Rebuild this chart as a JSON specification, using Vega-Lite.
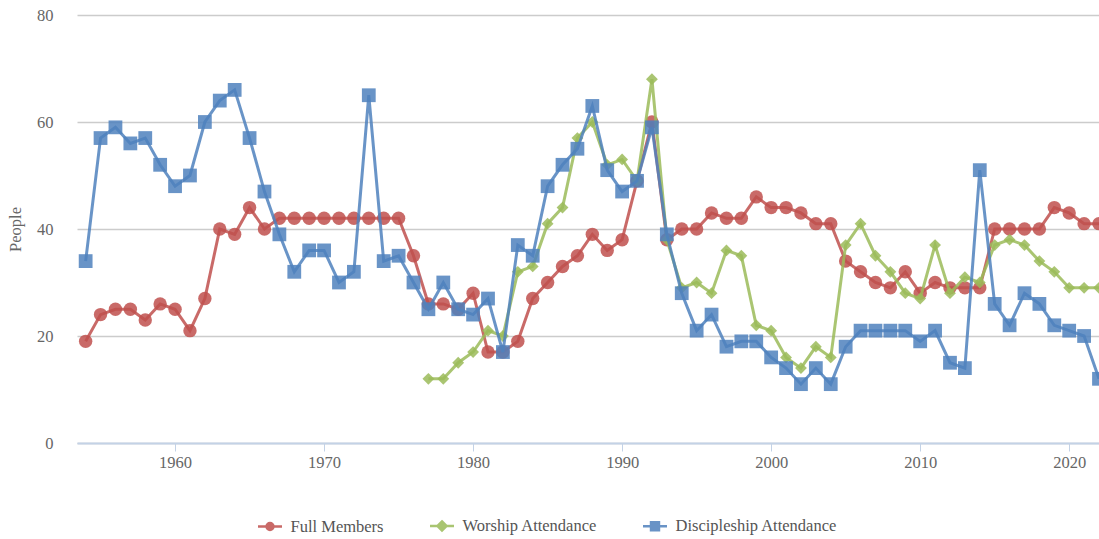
{
  "$schema": "https://vega.github.io/schema/vega-lite/v6.json",
  "autosize": {"type": "none"},
  "padding": {"left": 77, "top": 15, "right": 0, "bottom": 96},
  "width": 1022,
  "height": 428,
  "background": "white",
  "config": {
    "view": {"stroke": null},
    "font": "Liberation Serif"
  },
  "datasets": {
    "members": [
      {"year":1954,"value":19},{"year":1955,"value":24},{"year":1956,"value":25},{"year":1957,"value":25},{"year":1958,"value":23},{"year":1959,"value":26},{"year":1960,"value":25},{"year":1961,"value":21},{"year":1962,"value":27},{"year":1963,"value":40},{"year":1964,"value":39},{"year":1965,"value":44},{"year":1966,"value":40},{"year":1967,"value":42},{"year":1968,"value":42},{"year":1969,"value":42},{"year":1970,"value":42},{"year":1971,"value":42},{"year":1972,"value":42},{"year":1973,"value":42},{"year":1974,"value":42},{"year":1975,"value":42},{"year":1976,"value":35},{"year":1977,"value":26},{"year":1978,"value":26},{"year":1979,"value":25},{"year":1980,"value":28},{"year":1981,"value":17},{"year":1982,"value":17},{"year":1983,"value":19},{"year":1984,"value":27},{"year":1985,"value":30},{"year":1986,"value":33},{"year":1987,"value":35},{"year":1988,"value":39},{"year":1989,"value":36},{"year":1990,"value":38},{"year":1991,"value":49},{"year":1992,"value":60},{"year":1993,"value":38},{"year":1994,"value":40},{"year":1995,"value":40},{"year":1996,"value":43},{"year":1997,"value":42},{"year":1998,"value":42},{"year":1999,"value":46},{"year":2000,"value":44},{"year":2001,"value":44},{"year":2002,"value":43},{"year":2003,"value":41},{"year":2004,"value":41},{"year":2005,"value":34},{"year":2006,"value":32},{"year":2007,"value":30},{"year":2008,"value":29},{"year":2009,"value":32},{"year":2010,"value":28},{"year":2011,"value":30},{"year":2012,"value":29},{"year":2013,"value":29},{"year":2014,"value":29},{"year":2015,"value":40},{"year":2016,"value":40},{"year":2017,"value":40},{"year":2018,"value":40},{"year":2019,"value":44},{"year":2020,"value":43},{"year":2021,"value":41},{"year":2022,"value":41}
    ],
    "worship": [
      {"year":1977,"value":12},{"year":1978,"value":12},{"year":1979,"value":15},{"year":1980,"value":17},{"year":1981,"value":21},{"year":1982,"value":20},{"year":1983,"value":32},{"year":1984,"value":33},{"year":1985,"value":41},{"year":1986,"value":44},{"year":1987,"value":57},{"year":1988,"value":60},{"year":1989,"value":52},{"year":1990,"value":53},{"year":1991,"value":49},{"year":1992,"value":68},{"year":1993,"value":38},{"year":1994,"value":29},{"year":1995,"value":30},{"year":1996,"value":28},{"year":1997,"value":36},{"year":1998,"value":35},{"year":1999,"value":22},{"year":2000,"value":21},{"year":2001,"value":16},{"year":2002,"value":14},{"year":2003,"value":18},{"year":2004,"value":16},{"year":2005,"value":37},{"year":2006,"value":41},{"year":2007,"value":35},{"year":2008,"value":32},{"year":2009,"value":28},{"year":2010,"value":27},{"year":2011,"value":37},{"year":2012,"value":28},{"year":2013,"value":31},{"year":2014,"value":30},{"year":2015,"value":37},{"year":2016,"value":38},{"year":2017,"value":37},{"year":2018,"value":34},{"year":2019,"value":32},{"year":2020,"value":29},{"year":2021,"value":29},{"year":2022,"value":29}
    ],
    "disciple": [
      {"year":1954,"value":34},{"year":1955,"value":57},{"year":1956,"value":59},{"year":1957,"value":56},{"year":1958,"value":57},{"year":1959,"value":52},{"year":1960,"value":48},{"year":1961,"value":50},{"year":1962,"value":60},{"year":1963,"value":64},{"year":1964,"value":66},{"year":1965,"value":57},{"year":1966,"value":47},{"year":1967,"value":39},{"year":1968,"value":32},{"year":1969,"value":36},{"year":1970,"value":36},{"year":1971,"value":30},{"year":1972,"value":32},{"year":1973,"value":65},{"year":1974,"value":34},{"year":1975,"value":35},{"year":1976,"value":30},{"year":1977,"value":25},{"year":1978,"value":30},{"year":1979,"value":25},{"year":1980,"value":24},{"year":1981,"value":27},{"year":1982,"value":17},{"year":1983,"value":37},{"year":1984,"value":35},{"year":1985,"value":48},{"year":1986,"value":52},{"year":1987,"value":55},{"year":1988,"value":63},{"year":1989,"value":51},{"year":1990,"value":47},{"year":1991,"value":49},{"year":1992,"value":59},{"year":1993,"value":39},{"year":1994,"value":28},{"year":1995,"value":21},{"year":1996,"value":24},{"year":1997,"value":18},{"year":1998,"value":19},{"year":1999,"value":19},{"year":2000,"value":16},{"year":2001,"value":14},{"year":2002,"value":11},{"year":2003,"value":14},{"year":2004,"value":11},{"year":2005,"value":18},{"year":2006,"value":21},{"year":2007,"value":21},{"year":2008,"value":21},{"year":2009,"value":21},{"year":2010,"value":19},{"year":2011,"value":21},{"year":2012,"value":15},{"year":2013,"value":14},{"year":2014,"value":51},{"year":2015,"value":26},{"year":2016,"value":22},{"year":2017,"value":28},{"year":2018,"value":26},{"year":2019,"value":22},{"year":2020,"value":21},{"year":2021,"value":20},{"year":2022,"value":12}
    ]
  },
  "encoding": {
    "x": {
      "field": "year", "type": "quantitative",
      "scale": {"domain": [1953.42, 2022.0], "nice": false, "zero": false},
      "axis": {
        "title": null, "values": [1960,1970,1980,1990,2000,2010,2020], "format": "d",
        "grid": false, "domainColor": "#c3d2e6", "domainWidth": 2, "tickColor": "#c3d2e6", "tickSize": 8, "tickWidth": 1,
        "labelFont": "Liberation Serif", "labelFontSize": 16.5, "labelColor": "#666666", "labelPadding": 3
      }
    },
    "y": {
      "field": "value", "type": "quantitative",
      "scale": {"domain": [0, 80], "nice": false},
      "axis": {
        "title": "People", "values": [0,20,40,60,80], "domain": false, "ticks": false,
        "gridColor": "#cccccc", "gridWidth": 1.5,
        "labelFont": "Liberation Serif", "labelFontSize": 16.5, "labelColor": "#666666", "labelPadding": 24,
        "titleFont": "Liberation Serif", "titleFontSize": 16.5, "titleFontWeight": "normal", "titleColor": "#666666",
        "titleX": -62, "titleY": 214, "titleAngle": 270, "titleAlign": "center", "titleBaseline": "middle"
      }
    },
    "color": {
      "field": "series", "type": "nominal",
      "scale": {"domain": ["Full Members", "Worship Attendance", "Discipleship Attendance"], "range": ["#c0504d", "#9bbb59", "#4f81bd"]},
      "legend": {
        "title": null, "orient": "none", "direction": "horizontal", "legendX": 179.5, "legendY": 497,
        "columnPadding": 40, "symbolSize": 576, "symbolStrokeWidth": 2.5, "symbolOpacity": 0.85,
        "labelFont": "Liberation Serif", "labelFontSize": 16.5, "labelColor": "#555555", "labelOffset": 7, "labelLimit": 400,
        "encode": {
          "symbols": {
            "update": {
              "shape": {"signal": "datum.value === 'Full Members' ? 'M-1,0L1,0M-0.29,0A0.29,0.29 0 1,0 0.29,0A0.29,0.29 0 1,0 -0.29,0Z' : datum.value === 'Worship Attendance' ? 'M-1,0L1,0M0,-0.38L0.38,0L0,0.38L-0.38,0Z' : 'M-1,0L1,0M-0.33,-0.33L0.33,-0.33L0.33,0.33L-0.33,0.33Z'"},
              "stroke": {"scale": "color", "field": "value"},
              "fill": {"scale": "color", "field": "value"}
            }
          }
        }
      }
    }
  },
  "layer": [
    {
      "data": {"name": "members"},
      "transform": [{"calculate": "'Full Members'", "as": "series"}],
      "layer": [
        {"mark": {"type": "line", "strokeWidth": 3, "opacity": 0.85}},
        {"mark": {"type": "point", "filled": true, "shape": "circle", "size": 180, "opacity": 0.85}}
      ]
    },
    {
      "data": {"name": "worship"},
      "transform": [{"calculate": "'Worship Attendance'", "as": "series"}],
      "layer": [
        {"mark": {"type": "line", "strokeWidth": 3, "opacity": 0.85}},
        {"mark": {"type": "point", "filled": true, "shape": "diamond", "size": 140, "opacity": 0.85}}
      ]
    },
    {
      "data": {"name": "disciple"},
      "transform": [{"calculate": "'Discipleship Attendance'", "as": "series"}],
      "layer": [
        {"mark": {"type": "line", "strokeWidth": 3, "opacity": 0.85}},
        {"mark": {"type": "point", "filled": true, "shape": "square", "size": 190, "opacity": 0.85}}
      ]
    }
  ]
}
